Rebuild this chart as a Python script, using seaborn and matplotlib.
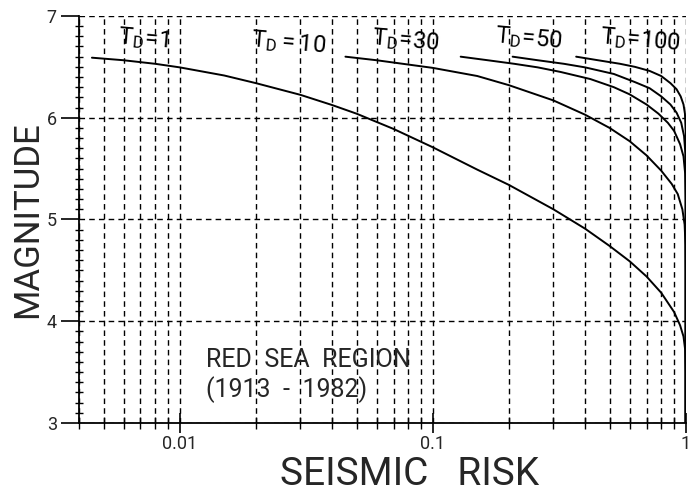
import numpy as np
import matplotlib
matplotlib.use("Agg")
import matplotlib.pyplot as plt
import matplotlib.ticker as mticker
import seaborn as sns

# curves: (seismic risk, magnitude) for each data span T_D
t1_risk = [0.0045, 0.006, 0.008, 0.01, 0.015, 0.02, 0.03, 0.04, 0.05, 0.07, 0.1,
           0.15, 0.2, 0.3, 0.4, 0.5, 0.6, 0.7, 0.8, 0.9, 0.95, 0.98, 0.995, 1.0, 1.0]
t1_mag = [6.59, 6.565, 6.53, 6.495, 6.415, 6.34, 6.225, 6.125, 6.04, 5.89, 5.71,
          5.49, 5.34, 5.10, 4.91, 4.74, 4.59, 4.44, 4.28, 4.09, 3.96, 3.85, 3.72, 3.5, 3.0]

t10_risk = [0.0452, 0.06, 0.1, 0.15, 0.2, 0.3, 0.4, 0.5, 0.6, 0.7, 0.8, 0.88,
            0.93, 0.97, 0.99, 0.998, 1.0, 1.0]
t10_mag = [6.60, 6.565, 6.49, 6.41, 6.32, 6.17, 6.03, 5.90, 5.77, 5.63, 5.48, 5.35,
           5.25, 5.10, 4.95, 4.75, 4.5, 3.0]

t30_risk = [0.129, 0.165, 0.21, 0.26, 0.32, 0.42, 0.52, 0.6, 0.7, 0.78, 0.85, 0.9,
            0.95, 0.98, 0.995, 1.0, 1.0]
t30_mag = [6.60, 6.565, 6.53, 6.495, 6.45, 6.38, 6.30, 6.23, 6.13, 6.04, 5.95, 5.87,
           5.74, 5.62, 5.45, 5.2, 3.0]

t50_risk = [0.207, 0.26, 0.33, 0.40, 0.52, 0.63, 0.72, 0.80, 0.87, 0.92, 0.96,
            0.985, 0.997, 1.0, 1.0]
t50_mag = [6.60, 6.565, 6.53, 6.495, 6.43, 6.35, 6.29, 6.21, 6.13, 6.05, 5.95,
           5.82, 5.65, 5.4, 3.0]

t100_risk = [0.369, 0.45, 0.55, 0.63, 0.72, 0.80, 0.87, 0.92, 0.955, 0.98, 0.993,
             1.0, 1.0]
t100_mag = [6.60, 6.565, 6.53, 6.50, 6.46, 6.41, 6.34, 6.28, 6.21, 6.13, 6.04,
            5.85, 3.0]

curves = [(t1_risk, t1_mag), (t10_risk, t10_mag), (t30_risk, t30_mag),
          (t50_risk, t50_mag), (t100_risk, t100_mag)]

# curve labels and where they sit
label_text = [r"$\mathregular{T_D\!=\!1}$", r"$\mathregular{T_D = 10}$",
              r"$\mathregular{T_D\!=\!30}$", r"$\mathregular{T_D\!=\!50}$",
              r"$\mathregular{T_D\!=\!100}$"]
label_x = [0.0072, 0.027, 0.078, 0.24, 0.66]
label_y = [6.78, 6.74, 6.76, 6.78, 6.76]

x_ticks = [0.01, 0.1, 1]
x_ticklabels = ["0.01", "0.1", "1"]
y_ticks = [3, 4, 5, 6, 7]

sns.set_style("white")
plt.rcParams["font.family"] = ["Roboto", "DejaVu Sans"]
plt.rcParams["mathtext.fontset"] = "dejavusans"

fig = plt.figure(figsize=(6.99, 4.93), dpi=100)
ax = fig.add_axes([0.113, 0.142, 0.868, 0.8256])

for risk, mag in curves:
    sns.lineplot(x=risk, y=mag, sort=False, estimator=None, color="black",
                 linewidth=1.4, ax=ax)

ax.set_xscale("log")
ax.set_xlim(0.004, 1.0)
ax.set_ylim(3, 7)

ax.xaxis.set_major_locator(mticker.FixedLocator(x_ticks))
ax.xaxis.set_major_formatter(mticker.FixedFormatter(x_ticklabels))
ax.xaxis.set_minor_locator(mticker.LogLocator(base=10, subs=np.arange(2, 10)))
ax.xaxis.set_minor_formatter(mticker.NullFormatter())
ax.yaxis.set_major_locator(mticker.FixedLocator(y_ticks))
ax.yaxis.set_minor_locator(mticker.MultipleLocator(0.1))

dash = (0, (4, 3))
ax.grid(which="both", axis="x", color="black", linestyle=dash, linewidth=1.0)
ax.grid(which="major", axis="y", color="black", linestyle=dash, linewidth=1.0)

for side in ["top", "right"]:
    ax.spines[side].set_visible(False)
for side in ["left", "bottom"]:
    ax.spines[side].set_color("black")
    ax.spines[side].set_linewidth(1.3)

ax.tick_params(axis="y", which="major", direction="out", length=13, width=1.2,
               color="black", labelsize=13, pad=3, left=True)
ax.tick_params(axis="y", which="minor", direction="inout", length=6, width=1.0,
               color="black", left=True)
ax.tick_params(axis="x", which="major", direction="inout", length=14, width=1.2,
               color="black", labelsize=13, pad=2, bottom=True)
ax.tick_params(axis="x", which="minor", direction="inout", length=8, width=1.0,
               color="black", bottom=True)

ax.set_xlabel("SEISMIC   RISK", fontsize=28, labelpad=2, x=0.545)
ax.set_ylabel("MAGNITUDE", fontsize=25, labelpad=2)

for txt, lx, ly in zip(label_text, label_x, label_y):
    ax.text(lx, ly, txt, fontsize=17, ha="center", va="center", rotation=-5,
            color="black")

ax.text(0.0127, 3.62, "RED  SEA  REGION", fontsize=18, ha="left", va="center")
ax.text(0.0127, 3.33, "(1913  -  1982)", fontsize=18, ha="left", va="center")

fig.savefig("out.png", dpi=100)
